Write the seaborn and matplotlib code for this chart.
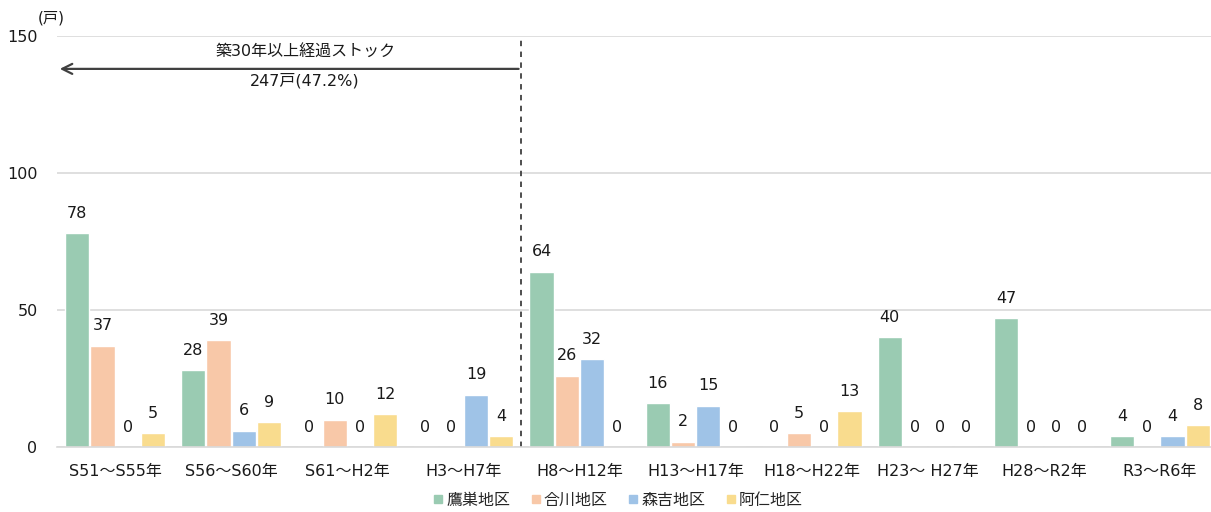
import pandas as pd
import seaborn as sns
import matplotlib.pyplot as plt
from matplotlib.lines import Line2D

# --- Data ---
periods = ["S51～S55年", "S56～S60年", "S61～H2年", "H3～H7年", "H8～H12年",
           "H13～H17年", "H18～H22年", "H23～ H27年", "H28～R2年", "R3～R6年"]
districts = ["鷹巣地区", "合川地区", "森吉地区", "阿仁地区"]
takanosu = [78, 28, 0, 0, 64, 16, 0, 40, 47, 4]
aikawa = [37, 39, 10, 0, 26, 2, 5, 0, 0, 0]
moriyoshi = [0, 6, 0, 19, 32, 15, 0, 0, 0, 4]
ani = [5, 9, 12, 4, 0, 0, 13, 0, 0, 8]
colors = ["#9ACBB2", "#F8C8A8", "#9FC3E7", "#F9DC8E"]

rows = []
for name, vals in zip(districts, [takanosu, aikawa, moriyoshi, ani]):
    for p, v in zip(periods, vals):
        rows.append({"period": p, "district": name, "count": v})
df = pd.DataFrame(rows)

# --- Plot ---
sns.set_style("white")
plt.rcParams['font.family'] = ['DejaVu Sans', 'Noto Sans CJK JP']

fig = plt.figure(figsize=(12.11, 5.12), dpi=100)
ax = fig.add_axes([57 / 1211, 1 - 447 / 512, 1161 / 1211, 411 / 512])

sns.barplot(data=df, x="period", y="count", hue="district", order=periods,
            hue_order=districts, palette=colors, width=0.87, gap=0.04,
            saturation=1, legend=False, ax=ax)

for c in ax.containers:
    ax.bar_label(c, fmt="%d", padding=9, fontsize=11.5, color="#1a1a1a")

ax.set_ylim(0, 150)
ax.set_xlim(-0.5, 9.5)
ax.set_yticks([0, 50, 100, 150])
ax.yaxis.grid(True, color="#d9d9d9", lw=1.2)
ax.set_axisbelow(True)
ax.set_xlabel("")
ax.set_ylabel("")
for s in ["top", "right", "left"]:
    ax.spines[s].set_visible(False)
ax.spines["bottom"].set_color("#d9d9d9")
ax.spines["bottom"].set_linewidth(1.2)
ax.tick_params(axis="y", length=0, pad=14, labelsize=11.5, labelcolor="#1a1a1a")
ax.tick_params(axis="x", length=0, pad=12, labelsize=11.5, labelcolor="#1a1a1a")
ax.set_xticks([i + 0.5 for i in range(9)], minor=True)
ax.tick_params(axis="x", which="minor", direction="in", length=4,
               color="#bfbfbf", width=1)

# 30-year stock marker
ax.axvline(3.5, ymin=0, ymax=1, color="#404040", ls=(0, (3, 3)), lw=1.3)
ax.annotate("", xy=(-0.5, 138), xytext=(3.5, 138),
            arrowprops=dict(arrowstyle="->", color="#404040", lw=1.6,
                            mutation_scale=18))
ax.text(1.64, 144, "築30年以上経過ストック", ha="center", va="center",
        fontsize=11.5, color="#1a1a1a")
ax.text(1.63, 133.5, "247戸(47.2%)", ha="center", va="center",
        fontsize=11.5, color="#1a1a1a")

fig.text(38 / 1211, 1 - 18 / 512, "(戸)", fontsize=11, va="center",
         color="#1a1a1a")

handles = [Line2D([], [], marker="s", ls="", color=col, markersize=5.5)
           for col in colors]
fig.legend(handles, districts, loc="center", bbox_to_anchor=(618 / 1211, 1 - 500 / 512),
           ncol=4, frameon=False, fontsize=11.5, handlelength=0.6,
           handletextpad=0.2, columnspacing=1.3)

fig.savefig("out.png", dpi=100)
